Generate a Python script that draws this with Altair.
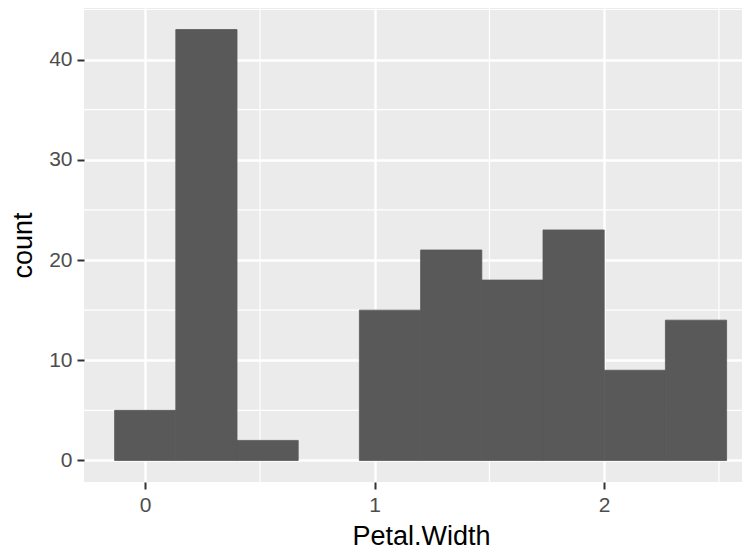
import altair as alt
import pandas as pd

# Histogram of iris Petal.Width (10 bins)
bin_edges = [-0.1333, 0.1333, 0.4, 0.6667, 0.9333, 1.2, 1.4667, 1.7333, 2.0, 2.2667, 2.5333]
counts = [5, 43, 2, 0, 15, 21, 18, 23, 9, 14]

x_major = [0, 1, 2]
x_minor = [0.5, 1.5, 2.5]
y_major = [0, 10, 20, 30, 40]
y_minor = [5, 15, 25, 35, 45]

bars = pd.DataFrame({"x1": bin_edges[:-1], "x2": bin_edges[1:], "count": counts})
xminor_df = pd.DataFrame({"v": x_minor})
yminor_df = pd.DataFrame({"v": y_minor})

FONT = "Liberation Sans"
xscale = alt.Scale(domain=[-0.2667, 2.6004], nice=False, zero=False)
yscale = alt.Scale(domain=[-2.15, 45.15], nice=False, zero=False)

xaxis = alt.Axis(values=x_major, title="Petal.Width", grid=True, gridColor="white", gridWidth=2.4,
                 domain=False, tickColor="#333333", tickSize=7, tickWidth=2,
                 labelFont=FONT, labelFontSize=21, labelColor="#4D4D4D", labelPadding=5,
                 titleFont=FONT, titleFontSize=27, titleColor="black", titleFontWeight="normal",
                 titleX=337, titleY=62, titleBaseline="alphabetic", titleAnchor="start", titleAlign="center",
                 format="d")
yaxis = alt.Axis(values=y_major, title="count", grid=True, gridColor="white", gridWidth=2.4,
                 domain=False, tickColor="#333333", tickSize=7, tickWidth=2,
                 labelFont=FONT, labelFontSize=21, labelColor="#4D4D4D", labelPadding=5,
                 titleFont=FONT, titleFontSize=27, titleColor="black", titleFontWeight="normal",
                 titleX=-53, titleY=237, titleBaseline="alphabetic", titleAlign="center", titleAngle=270,
                 format="d")

xmin = alt.Chart(xminor_df).mark_rule(color="white", strokeWidth=1.2).encode(
    x=alt.X("v:Q", scale=xscale, axis=xaxis))
ymin = alt.Chart(yminor_df).mark_rule(color="white", strokeWidth=1.2).encode(
    y=alt.Y("v:Q", scale=yscale, axis=yaxis))
rects = alt.Chart(bars).transform_filter("datum.count > 0").mark_rect(
    color="#595959", stroke="#595959", strokeWidth=0.8).encode(
    x=alt.X("x1:Q", scale=xscale, axis=xaxis),
    x2="x2:Q",
    y=alt.Y("count:Q", scale=yscale, axis=yaxis),
    y2=alt.datum(0),
)

chart = alt.layer(xmin, ymin, rects).properties(
    width=658, height=474,
    autosize=alt.AutoSizeParams(type="none"),
    padding={"left": 76, "top": 0, "right": 0, "bottom": 70},
).configure_view(fill="#EBEBEB", stroke=None)

chart.save("out.html", embed_options={"renderer": "svg", "actions": False})
